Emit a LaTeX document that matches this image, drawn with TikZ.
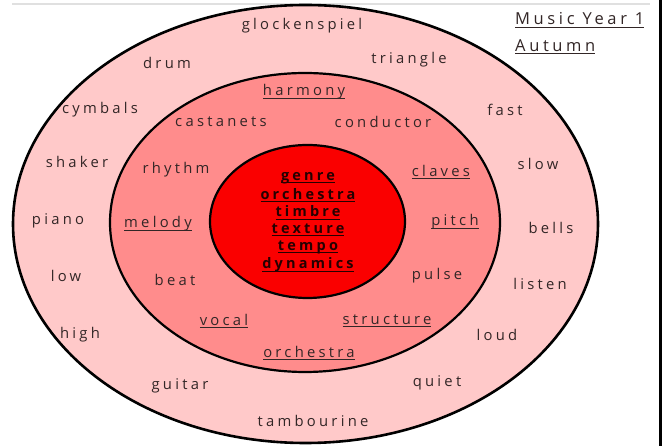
\documentclass[tikz,border=0pt]{standalone}
\usepackage{fontspec}
\setmainfont{Open Sans}[LetterSpace=22]
\usetikzlibrary{shapes.geometric}
\definecolor{outerpink}{RGB}{255,201,201}
\definecolor{midpink}{RGB}{255,140,140}
\definecolor{innerred}{RGB}{250,0,0}
\definecolor{ink}{RGB}{50,38,38}
\newcommand\ulx[1]{\setbox0\hbox{#1}\rlap{\rule[-2.8pt]{\wd0}{0.9pt}}\box0}
\begin{document}
\begin{tikzpicture}[x=1pt,y=-1pt,
  ring/.style={ellipse, draw=black, inner sep=0pt},
  word/.style={text=ink, font=\fontsize{14.8}{16}\selectfont, inner sep=0pt},
  core/.style={text=black!85!red, font=\fontsize{14.5}{16}\selectfont\bfseries, inner sep=0pt}]
\useasboundingbox (0,0) rectangle (665,446);
\fill[white] (0,0) rectangle (665,446);
\draw[black!12, line width=1.5pt] (12,4) -- (650,4);
\draw[black, line width=3pt] (660.5,0) -- (660.5,446);
% rings
\node[ring, line width=2.6pt, fill=outerpink, minimum width=585pt, minimum height=438pt] (outer) at (305.5,224) {};
\node[ring, line width=2.2pt, fill=midpink, minimum width=390pt, minimum height=299pt] (middle) at (305,222.5) {};
\node[ring, line width=2.2pt, fill=innerred, minimum width=195pt, minimum height=153pt] (inner) at (307.5,221.5) {};
% title
\node[word, font=\fontsize{16.5}{18}\selectfont, anchor=west] (title1) at (515,20) {\ulx{Music Year 1}};
\node[word, font=\fontsize{16.5}{18}\selectfont, anchor=west] (title2) at (515,47) {\ulx{Autumn}};
% outer ring words
\node[word] (glock) at (302,26) {glockenspiel};
\node[word] (drum) at (167,63) {drum};
\node[word] (triangle) at (409,60) {triangle};
\node[word] (cymbals) at (100,110) {cymbals};
\node[word] (fast) at (505,110) {fast};
\node[word] (shaker) at (77,162) {shaker};
\node[word] (slow) at (538,164) {slow};
\node[word] (piano) at (58,221) {piano};
\node[word] (bells) at (551,228) {bells};
\node[word] (low) at (66,276) {low};
\node[word] (listen) at (540,284) {listen};
\node[word] (high) at (80,335) {high};
\node[word] (loud) at (497,335) {loud};
\node[word] (guitar) at (180,386) {guitar};
\node[word] (quiet) at (437,383) {quiet};
\node[word] (tamb) at (313,421) {tambourine};
% middle ring words
\node[word] (harmony) at (304,92) {\ulx{harmony}};
\node[word] (castanets) at (221,122) {castanets};
\node[word] (conductor) at (383,122) {conductor};
\node[word] (rhythm) at (176,170) {rhythm};
\node[word] (claves) at (441,172) {\ulx{claves}};
\node[word] (melody) at (158,224) {\ulx{melody}};
\node[word] (pitch) at (455,222) {\ulx{pitch}};
\node[word] (beat) at (175,280) {beat};
\node[word] (pulse) at (437,276) {pulse};
\node[word] (vocal) at (224,321) {\ulx{vocal}};
\node[word] (structure) at (387,321) {\ulx{structure}};
\node[word] (orch2) at (309,353) {\ulx{orchestra}};
% inner words
\node[core] (genre) at (308,178) {\ulx{genre}};
\node[core] (orch1) at (308,195) {\ulx{orchestra}};
\node[core] (timbre) at (308,212.5) {\ulx{timbre}};
\node[core] (texture) at (308,230) {\ulx{texture}};
\node[core] (tempo) at (308,247.5) {\ulx{tempo}};
\node[core] (dynamics) at (308,265) {\ulx{dynamics}};
\end{tikzpicture}
\end{document}
